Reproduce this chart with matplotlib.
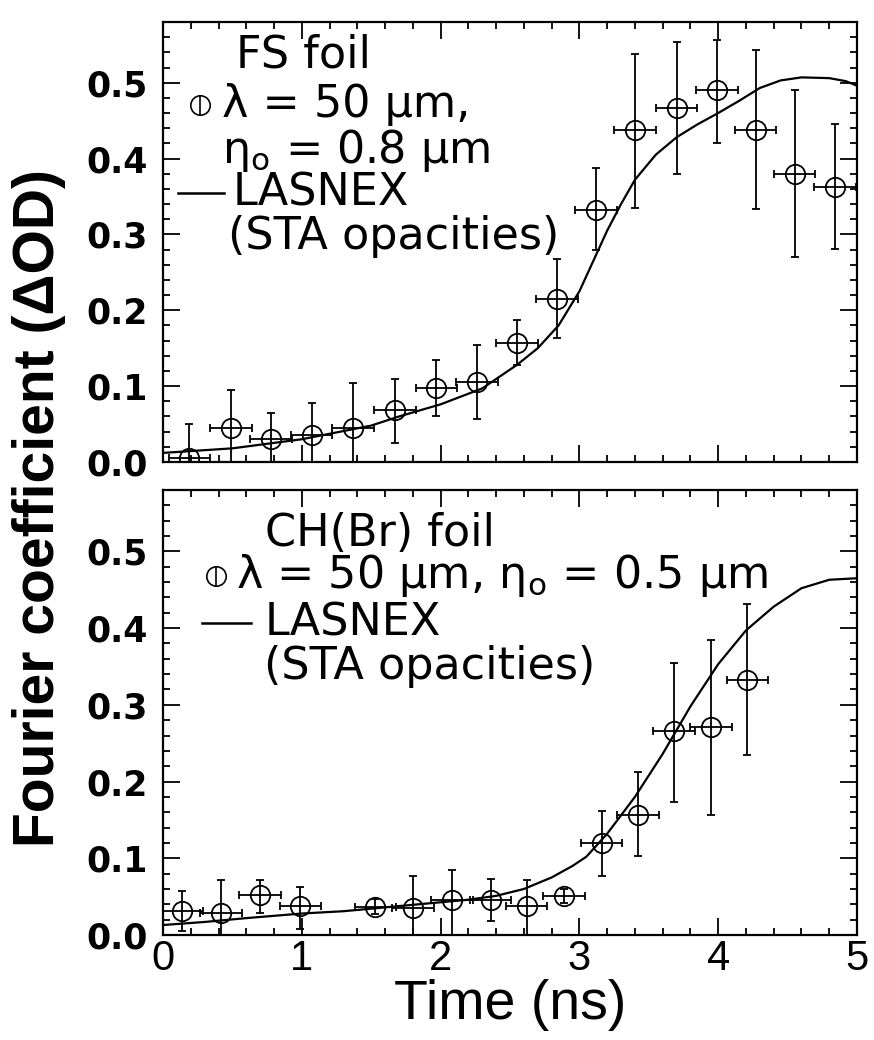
import numpy as np
import matplotlib
matplotlib.use("Agg")
import matplotlib.pyplot as plt
from matplotlib.ticker import MultipleLocator

plt.rcParams["font.family"] = ["DejaVu Sans"]

# --- FS foil (top panel) ---
fs_t = [0.19, 0.49, 0.78, 1.07, 1.37, 1.67, 1.97, 2.26, 2.55, 2.84, 3.12, 3.40, 3.70, 3.99, 4.27, 4.55, 4.84]
fs_val = [0.005, 0.045, 0.030, 0.035, 0.045, 0.068, 0.098, 0.106, 0.157, 0.215, 0.332, 0.437, 0.467, 0.491, 0.438, 0.380, 0.363]
fs_lo = [0.000, 0.000, 0.000, 0.000, 0.000, 0.025, 0.061, 0.057, 0.128, 0.163, 0.280, 0.335, 0.380, 0.421, 0.333, 0.270, 0.281]
fs_hi = [0.050, 0.095, 0.064, 0.078, 0.104, 0.110, 0.135, 0.154, 0.187, 0.268, 0.387, 0.538, 0.553, 0.556, 0.543, 0.491, 0.446]
fs_model_t = [0.0, 0.5, 1.0, 1.5, 1.7, 2.0, 2.3, 2.55, 2.7, 2.85, 3.0, 3.1, 3.2, 3.3, 3.4, 3.55,
              3.7, 3.85, 4.0, 4.15, 4.3, 4.45, 4.6, 4.8, 4.92, 5.0]
fs_model = [0.012, 0.018, 0.030, 0.048, 0.060, 0.076, 0.097, 0.128, 0.150, 0.180, 0.225, 0.265, 0.305,
            0.340, 0.372, 0.405, 0.428, 0.445, 0.460, 0.476, 0.493, 0.503, 0.507, 0.506, 0.502, 0.496]

# --- CH(Br) foil (bottom panel) ---
ch_t = [0.14, 0.42, 0.70, 0.99, 1.53, 1.80, 2.08, 2.36, 2.62, 2.89, 3.16, 3.42, 3.68, 3.95, 4.21]
ch_val = [0.031, 0.029, 0.052, 0.038, 0.037, 0.035, 0.046, 0.046, 0.038, 0.051, 0.120, 0.157, 0.266, 0.271, 0.332]
ch_lo = [0.005, 0.000, 0.029, 0.008, 0.027, 0.000, 0.000, 0.018, 0.000, 0.042, 0.077, 0.103, 0.173, 0.157, 0.234]
ch_hi = [0.057, 0.072, 0.072, 0.063, 0.047, 0.077, 0.085, 0.073, 0.072, 0.060, 0.162, 0.212, 0.354, 0.384, 0.431]
ch_model_t = [0.0, 0.3, 0.6, 1.0, 1.3, 1.6, 1.9, 2.2, 2.4, 2.6, 2.8, 2.95, 3.05, 3.2, 3.4, 3.6,
              3.8, 4.0, 4.2, 4.4, 4.6, 4.8, 5.0]
ch_model = [0.013, 0.017, 0.022, 0.028, 0.031, 0.036, 0.041, 0.046, 0.051, 0.060, 0.075, 0.090, 0.102,
            0.132, 0.180, 0.236, 0.298, 0.353, 0.397, 0.428, 0.452, 0.463, 0.465]

t_err = 0.15
y_ticks = [0.0, 0.1, 0.2, 0.3, 0.4, 0.5]
x_ticks = [0, 1, 2, 3, 4, 5]

W, H = 874, 1040
fig = plt.figure(figsize=(W / 100, H / 100), dpi=100)
ax1 = fig.add_axes([163 / W, 1 - 462 / H, 694 / W, 440 / H])
ax2 = fig.add_axes([163 / W, 1 - 935 / H, 694 / W, 445 / H])


def draw_panel(ax, t, val, lo, hi, mt, mv):
    val = np.array(val)
    yerr = [val - np.array(lo), np.array(hi) - val]
    ax.errorbar(t, val, yerr=yerr, xerr=t_err, fmt="o", mfc="none", mec="k",
                mew=1.3, ms=14, ecolor="k", elinewidth=1.3, capsize=3, capthick=1.3)
    ax.plot(mt, mv, "k-", lw=1.6)
    ax.set_xlim(0, 5)
    ax.set_ylim(0, 0.58)
    ax.set_xticks(x_ticks)
    ax.set_yticks(y_ticks)
    ax.xaxis.set_minor_locator(MultipleLocator(0.2))
    ax.yaxis.set_minor_locator(MultipleLocator(0.02))
    ax.tick_params(which="both", direction="in", top=True, right=True, width=1.3)
    ax.tick_params(which="major", length=12)
    ax.tick_params(which="minor", length=5)
    ax.tick_params(axis="y", labelsize=25, pad=11)
    ax.tick_params(axis="x", labelsize=30, pad=3, labelfontfamily="Liberation Sans")
    for lab in ax.get_yticklabels():
        lab.set_fontweight("bold")
    for s in ax.spines.values():
        s.set_linewidth(1.6)


def legend_marker(ax, x, y):
    ax.plot([x], [y], "o", mfc="none", mec="k", mew=1.2, ms=14, transform=ax.transAxes, clip_on=False)
    ax.plot([x], [y], "|", mec="k", mew=1.2, ms=15, transform=ax.transAxes, clip_on=False)


draw_panel(ax1, fs_t, fs_val, fs_lo, fs_hi, fs_model_t, fs_model)
draw_panel(ax2, ch_t, ch_val, ch_lo, ch_hi, ch_model_t, ch_model)
ax1.tick_params(labelbottom=False)

fs = 32
kw = dict(transform=ax1.transAxes, fontsize=fs, ha="left", va="center")
ax1.text(0.105, 0.925, "FS foil", **kw)
legend_marker(ax1, 0.053, 0.812)
ax1.text(0.085, 0.812, "λ = 50 μm,", **kw)
ax1.text(0.085, 0.707, "η$_\\mathregular{o}$ = 0.8 μm", **kw)
ax1.plot([0.022, 0.088], [0.612, 0.612], "k-", lw=1.8, transform=ax1.transAxes)
ax1.text(0.101, 0.612, "LASNEX", **kw)
ax1.text(0.094, 0.512, "(STA opacities)", **kw)

kw = dict(transform=ax2.transAxes, fontsize=fs, ha="left", va="center")
ax2.text(0.147, 0.903, "CH(Br) foil", **kw)
legend_marker(ax2, 0.077, 0.807)
ax2.text(0.105, 0.807, "λ = 50 μm, η$_\\mathregular{o}$ = 0.5 μm", **kw)
ax2.plot([0.056, 0.127], [0.701, 0.701], "k-", lw=1.8, transform=ax2.transAxes)
ax2.text(0.147, 0.701, "LASNEX", **kw)
ax2.text(0.146, 0.604, "(STA opacities)", **kw)

ax2.set_xlabel("Time (ns)", fontsize=40, labelpad=0, fontfamily="Liberation Sans")
fig.text(39 / W, 1 - 508 / H, "Fourier coefficient (ΔOD)", rotation=90, fontsize=41,
         fontweight="bold", fontfamily="Liberation Sans", ha="center", va="center")

fig.savefig("out.png", dpi=100)
